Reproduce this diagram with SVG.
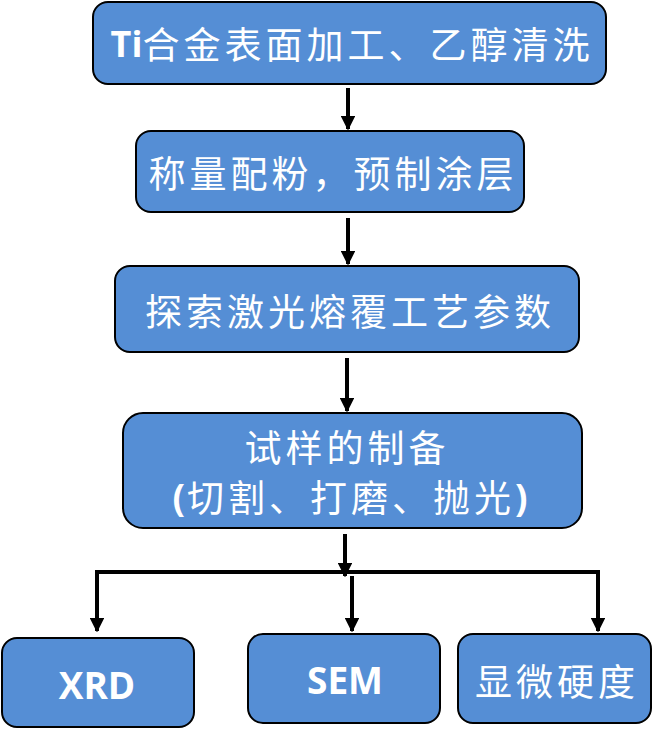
<svg xmlns="http://www.w3.org/2000/svg" width="664" height="733" viewBox="0 0 664 733">
<style>
.box{fill:#558ED5;stroke:#000;stroke-width:2}
.cn{font-family:"Noto Sans CJK SC","Noto Sans",sans-serif;font-size:37px;fill:#fff;letter-spacing:4px;text-anchor:middle;dominant-baseline:central}
.en{font-family:"Open Sans","Liberation Sans",sans-serif;font-weight:bold;font-size:37px;fill:#fff;text-anchor:middle;dominant-baseline:central}
.b{font-family:"Open Sans","Liberation Sans",sans-serif;font-weight:bold}
.ln{stroke:#000;stroke-width:4;fill:none}
</style>
<defs>
<marker id="ah" viewBox="0 0 10 10" refX="9" refY="5" markerWidth="3.6" markerHeight="3.6" orient="auto" markerUnits="strokeWidth">
<path d="M0,0 L10,5 L0,10 Z" fill="#000"/>
</marker>
</defs>
<g id="connectors">
<line class="ln" x1="348" y1="88" x2="348" y2="129" marker-end="url(#ah)"/>
<line class="ln" x1="348" y1="218" x2="348" y2="264" marker-end="url(#ah)"/>
<line class="ln" x1="347" y1="358" x2="347" y2="411" marker-end="url(#ah)"/>
<line class="ln" x1="345" y1="534" x2="345" y2="576" marker-end="url(#ah)"/>
<polyline class="ln" points="97,631 97,572 598,572 598,631" marker-end="url(#ah)"/>
<line class="ln" x1="97" y1="574" x2="97" y2="631" marker-end="url(#ah)"/>
<line class="ln" x1="352" y1="576" x2="352" y2="631" marker-end="url(#ah)"/>
</g>
<g id="n1">
<rect class="box" x="93" y="2" width="513" height="82" rx="15"/>
<text class="cn" x="352" y="43"><tspan class="b" font-size="36" letter-spacing="0">Ti</tspan>合金表面加工、乙醇清洗</text>
</g>
<g id="n2">
<rect class="box" x="136" y="131" width="388" height="81" rx="15"/>
<text class="cn" x="333" y="172">称量配粉，预制涂层</text>
</g>
<g id="n3">
<rect class="box" x="115" y="266" width="464" height="86" rx="15"/>
<text class="cn" x="350" y="310">探索激光熔覆工艺参数</text>
</g>
<g id="n4">
<rect class="box" x="123" y="413" width="459" height="115" rx="20"/>
<text class="cn" x="347" y="446">试样的制备</text>
<text class="cn" x="352" y="496"><tspan class="b" letter-spacing="2">(</tspan>切割、打磨、抛光<tspan class="b">)</tspan></text>
</g>
<g id="n5">
<rect class="box" x="2" y="638" width="192" height="89" rx="15"/>
<text class="en" x="97" y="684">XRD</text>
</g>
<g id="n6">
<rect class="box" x="248" y="634" width="192" height="89" rx="15"/>
<text class="en" x="345" y="679">SEM</text>
</g>
<g id="n7">
<rect class="box" x="458" y="634" width="193" height="89" rx="15"/>
<text class="cn" x="557" y="680">显微硬度</text>
</g>
</svg>
